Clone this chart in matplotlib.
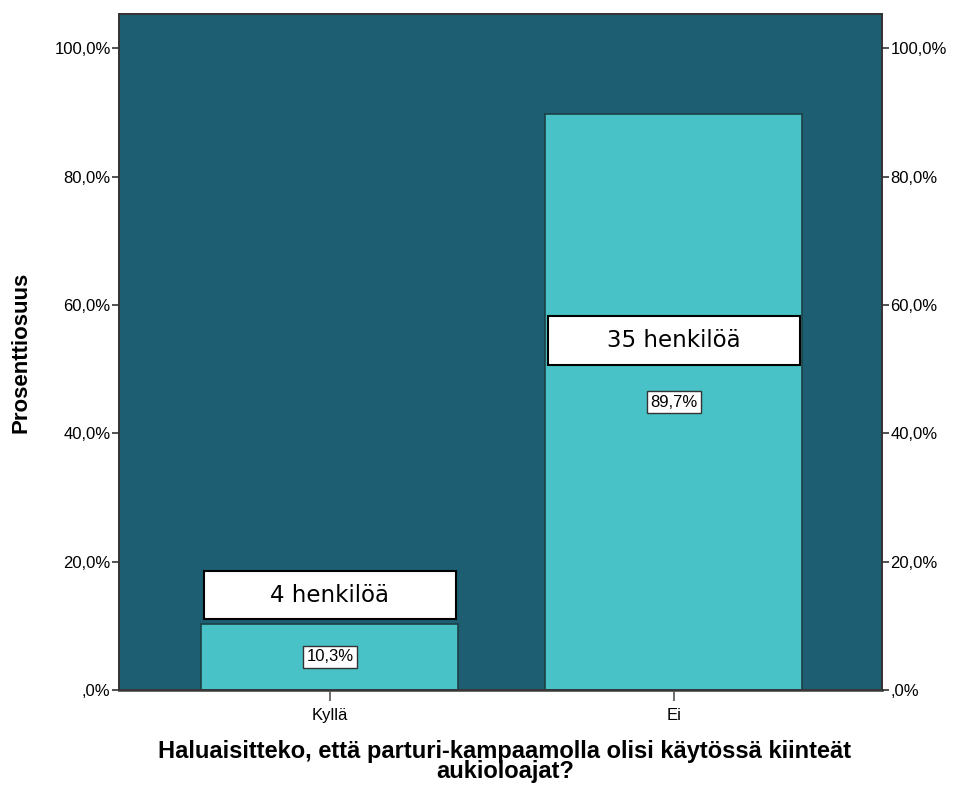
import matplotlib.pyplot as plt
import numpy as np
from matplotlib.patches import Rectangle
from matplotlib.ticker import FuncFormatter

categories = ['Kyllä', 'Ei']
percent = [10.3, 89.7]
counts = [4, 35]
count_label_y = [14.8, 54.4]
yticks = [0, 20, 40, 60, 80, 100]

plt.rcParams['font.family'] = ['Liberation Sans', 'DejaVu Sans']


def pct(v, pos=None):
    s = ('%.1f' % v).replace('.', ',')
    if s.startswith('0'):
        s = s[1:]
    return s + '%'


fig = plt.figure(figsize=(9.54, 7.85), dpi=100)
ax = fig.add_axes([0.1247, 0.121, 0.7998, 0.861])
ax.set_facecolor('#1d5e73')

x = np.arange(len(categories))
ax.bar(x, percent, width=0.747, color='#48c2c6', edgecolor='#1e3e44', linewidth=1.2, zorder=2)

ax.set_xlim(-0.613, 1.605)
ax.set_ylim(0, 105.3)

ax.set_yticks(yticks)
ax.yaxis.set_major_formatter(FuncFormatter(pct))
ax.set_xticks(x)
ax.set_xticklabels(categories)
ax.tick_params(axis='y', length=5, width=1.2, color='#333333', labelsize=12, pad=1)
ax.tick_params(axis='x', length=8, width=1.2, color='#555555', labelsize=12, pad=5)

ax2 = ax.twinx()
ax2.set_ylim(ax.get_ylim())
ax2.set_yticks(yticks)
ax2.yaxis.set_major_formatter(FuncFormatter(pct))
ax2.tick_params(axis='y', length=5, width=1.2, color='#333333', labelsize=12, pad=1)

for a in (ax, ax2):
    for s in a.spines.values():
        s.set_color('#333333')
        s.set_linewidth(1.2)
ax.spines['bottom'].set_color('#555555')
ax.spines['bottom'].set_linewidth(2)

# percentage labels in the middle of each bar
for xi, v in zip(x, percent):
    ax.text(xi, v / 2, pct(v), ha='center', va='center', fontsize=12, zorder=4,
            bbox=dict(boxstyle='square,pad=0.2', facecolor='white', edgecolor='#333333', linewidth=1))

# person counts in wide white boxes
box_w, box_h = 0.733, 7.6
for xi, n, ly in zip(x, counts, count_label_y):
    ax.add_patch(Rectangle((xi - box_w / 2, ly - box_h / 2), box_w, box_h, facecolor='white',
                           edgecolor='black', linewidth=1.5, zorder=4))
    ax.text(xi, ly, '%d henkilöä' % n, ha='center', va='center', fontsize=16.5,
            family=['DejaVu Sans'], zorder=5)

ax.set_ylabel('Prosenttiosuus', fontsize=16, fontweight='bold')
ax.yaxis.set_label_coords(-0.115, 0.5)
ax.set_xlabel('Haluaisitteko, että parturi-kampaamolla olisi käytössä kiinteät\naukioloajat?',
              fontsize=17, fontweight='bold', linespacing=0.85)
ax.xaxis.set_label_coords(0.506, -0.074)

fig.savefig('out.png', dpi=100)
